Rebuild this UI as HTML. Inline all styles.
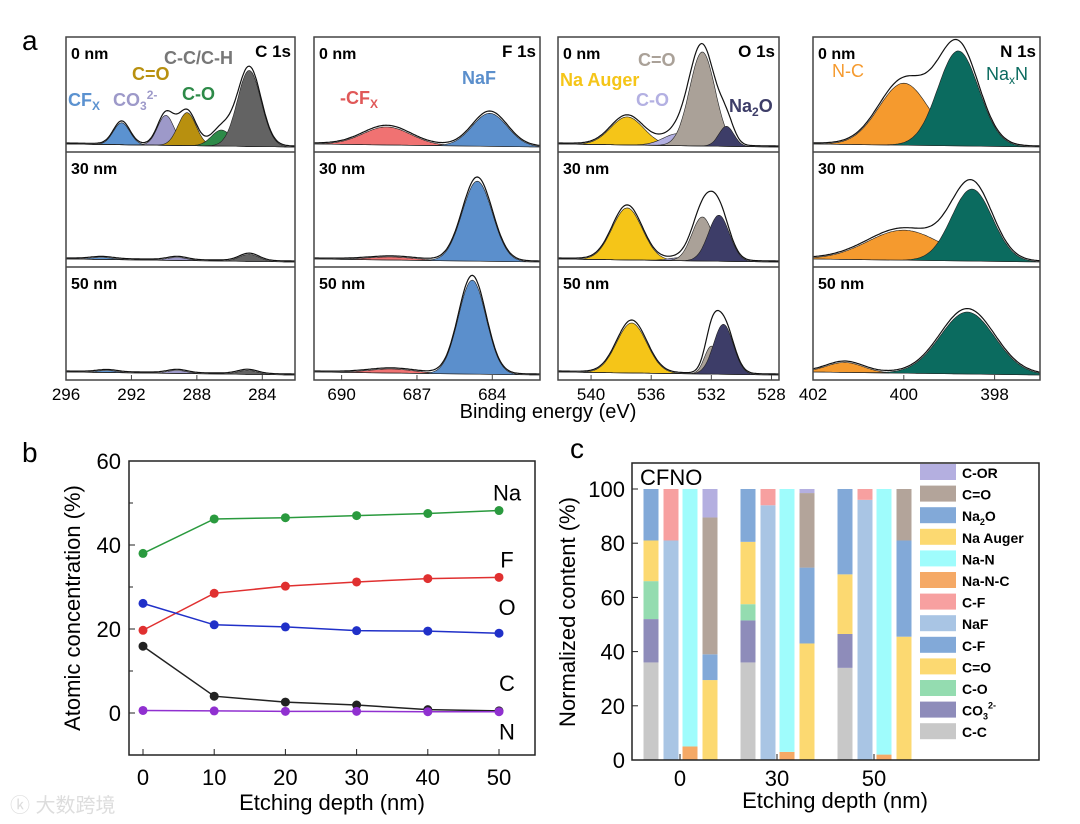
<!DOCTYPE html>
<html><head><meta charset="utf-8">
<style>
body{margin:0;background:#fff;}
svg{display:block;font-family:"Liberation Sans","Noto Sans CJK SC",sans-serif;}
.b{font-weight:bold}
</style></head>
<body>
<svg id="fig" width="1080" height="824" viewBox="0 0 1080 824">
<text x="22" y="50" font-size="28">a</text>
<text x="22" y="462" font-size="28">b</text>
<text x="570" y="458" font-size="28">c</text>
<g id="pa"></g><g id="pb"></g><g id="pc"></g>
<text x="548" y="418" font-size="20" text-anchor="middle">Binding energy (eV)</text>
<text x="10" y="812" font-size="20" fill="#ddd">ⓚ 大数跨境</text>
</svg>
<script>
const NS="http://www.w3.org/2000/svg";
function mk(p,t,a,txt){const e=document.createElementNS(NS,t);for(const k in a)e.setAttribute(k,a[k]);if(txt!==undefined)e.textContent=txt;p.appendChild(e);return e;}
// rich text: parts = [[text, mode]] mode: "" normal, "sub", "sup"
function rich(p,attrs,parts,fs){
 const t=mk(p,"text",attrs);
 let cur=0;
 parts.forEach(pt=>{
  const target=pt[1]==="sub"?4:pt[1]==="sup"?-7:0;
  const a={dy:(target-cur)};
  if(pt[1])a["font-size"]=Math.round(fs*0.65);
  mk(t,"tspan",a,pt[0]);cur=target;
 });
 return t;
}

// ---------- Panel a data ----------
const aPanels=["C 1s","F 1s","O 1s","N 1s"];
const aRanges=[[296,282],[691.1,682.1],[542.2,527.5],[402,397]];
const aTicks=[[296,292,288,284],[690,687,684],[540,536,532,528],[402,400,398]];
const aRows=["0 nm","30 nm","50 nm"];
// peaks: [center, amplitude(px), sigma, color]
const cPeaks=[
 [[292.6,22,0.5,"#5b92d0"],[289.9,30,0.5,"#9d99c9"],[288.6,33,0.55,"#b8900f"],[286.5,16,0.6,"#2d8a48"],[284.8,76,0.72,"#636363"]],
 [[293.8,2,0.7,"#5b92d0"],[289.2,3,0.6,"#9d99c9"],[284.8,7,0.6,"#636363"]],
 [[293.5,2,0.6,"#5b92d0"],[289.2,3,0.6,"#9d99c9"],[284.9,4,0.6,"#636363"]]];
const fPeaks=[
 [[688.2,18,0.95,"#f07272"],[684.1,33,0.7,"#5b8fcc"]],
 [[688.0,3,0.9,"#f07272"],[684.6,80,0.6,"#5b8fcc"]],
 [[688.0,4,0.9,"#f07272"],[684.8,94,0.55,"#5b8fcc"]]];
const oPeaks=[
 [[537.6,28,1.1,"#f5c518"],[534.2,12,1.0,"#b3b0e2"],[532.6,94,0.85,"#aaa198"],[531.0,20,0.5,"#3d3d68"]],
 [[537.6,52,1.0,"#f5c518"],[534.0,3,0.8,"#b3b0e2"],[532.6,44,0.7,"#aaa198"],[531.5,46,0.7,"#3d3d68"]],
 [[537.3,50,1.0,"#f5c518"],[532.0,28,0.45,"#aaa198"],[531.2,50,0.65,"#3d3d68"]]];
const nPeaks=[
 [[400.0,62,0.55,"#f59a2e"],[398.8,95,0.45,"#0b6b5f"]],
 [[400.0,30,0.8,"#f59a2e"],[398.5,72,0.45,"#0b6b5f"]],
 [[401.3,10,0.4,"#f59a2e"],[398.6,62,0.6,"#0b6b5f"]]];
const aAll=[cPeaks,fPeaks,oPeaks,nPeaks];
const aBoxX=[[66,295],[314,540],[558,779],[813,1040]];
const aRowY=[37,152,267,380];

const pa=document.getElementById("pa");
aAll.forEach((peaks,pi)=>{
 const [x0,x1]=aBoxX[pi],[e0,e1]=aRanges[pi];
 const X=e=>x0+(e-e0)/(e1-e0)*(x1-x0);
 const g=mk(pa,"g",{});
 
 
 peaks.forEach((row,ri)=>{
  const base=aRowY[ri+1]-5;
  const bl=e=>base-3*(e-e1)/(e0-e1);
  const N=160,pts=[];for(let i=0;i<=N;i++)pts.push(e0+(e1-e0)*i/N);
  row.forEach(p=>{
   let d="M"+X(pts[0])+","+bl(pts[0]);
   pts.forEach(e=>{d+="L"+X(e).toFixed(1)+","+(bl(e)-p[1]*Math.exp(-((e-p[0])**2)/(2*p[2]*p[2]))).toFixed(1);});
   d+="L"+X(pts[N])+","+bl(pts[N])+"Z";
   const pe=mk(g,"path",{d:d,fill:p[3],stroke:"#222","stroke-width":"0.6"});
   
   
  });
  let d="";
  pts.forEach((e,i)=>{let s=0;row.forEach(p=>{s+=p[1]*Math.exp(-((e-p[0])**2)/(2*p[2]*p[2]));});d+=(i?"L":"M")+X(e).toFixed(1)+","+(bl(e)-s*1.04-1).toFixed(1);});
  const env=mk(g,"path",{d:d,fill:"none",stroke:"#111","stroke-width":"1.2"});
  
  
  const rl=mk(g,"text",{x:x0+5,y:aRowY[ri]+22,"font-size":"16","class":"b"},aRows[ri]);
  
  
  if(ri>0)mk(g,"line",{x1:x0,x2:x1,y1:aRowY[ri],y2:aRowY[ri],stroke:"#444","stroke-width":"1.5"});
 });
 mk(g,"rect",{x:x0,y:aRowY[0],width:x1-x0,height:aRowY[3]-aRowY[0],fill:"none",stroke:"#444","stroke-width":"1.5"});
 const tl=mk(g,"text",{x:x1-4,y:aRowY[0]+20,"font-size":"17","class":"b","text-anchor":"end"},aPanels[pi]);
 
 
 aTicks[pi].forEach(t=>{
  mk(g,"line",{x1:X(t),x2:X(t),y1:380,y2:375,stroke:"#444"});
  const tt=mk(g,"text",{x:X(t),y:400,"font-size":"17","text-anchor":"middle"},t);
  
  
 });
});
// panel a annotations
const ann=[[[["CF",""],["X","sub"]],68,106,"#5b92d0",""],[[["CO",""],["3","sub"],["2-","sup"]],113,106,"#9d99c9",""],[[["C=O",""]],132,80,"#b8900f",""],[[["C-O",""]],182,100,"#2d8a48",""],[[["C-C/C-H",""]],164,64,"#777",""],
[[["-CF",""],["X","sub"]],340,104,"#e05858",""],[[["NaF",""]],462,84,"#5b8fcc",""],[[["Na Auger",""]],560,86,"#f5c518",""],[[["C=O",""]],638,66,"#aaa198",""],[[["C-O",""]],636,106,"#b3b0e2",""],[[["Na",""],["2","sub"],["O",""]],729,112,"#3d3d68",""],
[[["N-C",""]],832,77,"#f59a2e","normal"],[[["Na",""],["x","sub"],["N",""]],986,80,"#0b6b5f","normal"]];
ann.forEach(a=>{
 const attrs={x:a[1],y:a[2],"font-size":"18",fill:a[3]};
 if(!a[4])attrs["class"]="b";
 const t=rich(pa,attrs,a[0],18);
 
 
});

// ---------- Panel b ----------
const bDepth=[0,10,20,30,40,50];
const bNa=[38,46.2,46.5,47,47.5,48.2];
const bF=[19.7,28.5,30.2,31.2,32,32.3];
const bO=[26.1,21,20.5,19.6,19.5,19];
const bC=[15.9,4,2.6,1.9,0.8,0.5];
const bN=[0.6,0.5,0.4,0.4,0.3,0.3];
const bYTicks=[0,20,40,60];
const pb=document.getElementById("pb");
const bx=v=>143+v*(499-143)/50, by=v=>713-v*4.2;
mk(pb,"rect",{x:129,y:461,width:406,height:294,fill:"none",stroke:"#222","stroke-width":"1.5"});
bYTicks.forEach(t=>{mk(pb,"line",{x1:129,x2:135,y1:by(t),y2:by(t),stroke:"#222"});
 const e=mk(pb,"text",{x:121,y:by(t)+8,"font-size":"22","text-anchor":"end"},t);
 
 });
[10,30,50].forEach(t=>mk(pb,"line",{x1:129,x2:133,y1:by(t),y2:by(t),stroke:"#222"}));
bDepth.forEach(t=>{mk(pb,"line",{x1:bx(t),x2:bx(t),y1:755,y2:749,stroke:"#222"});
 const e=mk(pb,"text",{x:bx(t),y:785,"font-size":"22","text-anchor":"middle"},t);
 
 });
[[bNa,"#2a9a3e","Na",-10],[bF,"#e03030","F",-10],[bO,"#2030c8","O",-18],[bC,"#222","C",-20],[bN,"#9030d0","N",28]].forEach(s=>{
 const g=mk(pb,"g",{});
 
 
 mk(g,"polyline",{points:bDepth.map((d,i)=>bx(d)+","+by(s[0][i])).join(" "),fill:"none",stroke:s[1],"stroke-width":"1.5"});
 bDepth.forEach((d,i)=>{const c=mk(g,"circle",{cx:bx(d),cy:by(s[0][i]),r:4.5,fill:s[1]});
  
  });
 const l=mk(g,"text",{x:507,y:by(s[0][5])+s[3],"font-size":"22","text-anchor":"middle"},s[2]);
 
 
});
mk(pb,"text",{x:0,y:0,"font-size":"22","text-anchor":"middle",transform:"translate(80,608) rotate(-90)"},"Atomic concentration (%)");
mk(pb,"text",{x:332,y:810,"font-size":"22","text-anchor":"middle"},"Etching depth (nm)");

// ---------- Panel c ----------
const cGroups=["0","30","50"];
const cElements=["C","F","N","O"];
const cLegend=["C-OR","C=O","Na2O","Na Auger","Na-N","Na-N-C","C-F","NaF","C-F","C=O","C-O","CO3","C-C"];
const cColors=["#b4afe0","#b3a49a","#82a9d8","#fcd971","#9ffcfc","#f5a966","#f7a0a0","#a9c5e4","#82a9d8","#fcd971","#94dcb0","#8e8cba","#c8c8c8"];
// stacks per group: arrays of [legendIndex, value]
const cStackC0=[[12,36],[11,16],[10,14],[9,15],[8,19]];
const cStackF0=[[7,81],[6,19]];
const cStackN0=[[5,5],[4,95]];
const cStackO0=[[3,29.5],[2,9.5],[1,50.5],[0,10.5]];
const cStackC30=[[12,36],[11,15.5],[10,6],[9,23],[8,19.5]];
const cStackF30=[[7,94],[6,6]];
const cStackN30=[[5,3],[4,97]];
const cStackO30=[[3,43],[2,28],[1,27.5],[0,1.5]];
const cStackC50=[[12,34],[11,12.5],[9,22],[8,31.5]];
const cStackF50=[[7,96],[6,4]];
const cStackN50=[[5,2],[4,98]];
const cStackO50=[[3,45.5],[2,35.5],[1,19]];
const cStacks=[[cStackC0,cStackF0,cStackN0,cStackO0],[cStackC30,cStackF30,cStackN30,cStackO30],[cStackC50,cStackF50,cStackN50,cStackO50]];
const cYTicks=[0,20,40,60,80,100];
const pc=document.getElementById("pc");
const cy=v=>760-v*2.71;
const gx=[680,777,874], off=[-29,-9,10,30], bw=15;
cStacks.forEach((grp,gi)=>grp.forEach((st,bi)=>{
 let acc=0;
 st.forEach(s=>{const r=mk(pc,"rect",{x:gx[gi]+off[bi]-bw/2,y:cy(acc+s[1]),width:bw,height:s[1]*2.71,fill:cColors[s[0]]});
  
  
  acc+=s[1];});
}));
mk(pc,"rect",{x:632,y:463,width:407,height:297,fill:"none",stroke:"#222","stroke-width":"1.5"});
cYTicks.forEach(t=>{mk(pc,"line",{x1:632,x2:638,y1:cy(t),y2:cy(t),stroke:"#222"});
 const e=mk(pc,"text",{x:625,y:cy(t)+8,"font-size":"22","text-anchor":"end"},t);
 
 });
cGroups.forEach((g,i)=>{mk(pc,"line",{x1:gx[i],x2:gx[i],y1:760,y2:754,stroke:"#222"});
 const e=mk(pc,"text",{x:gx[i],y:786,"font-size":"22","text-anchor":"middle"},g);
 
 });
mk(pc,"text",{x:640,y:485,"font-size":"22"},cElements.join(""));
cLegend.forEach((l,i)=>{const y=472+i*21.6;
 const g=mk(pc,"g",{});
 
 
 mk(g,"rect",{x:920,y:y-8,width:36,height:16,fill:cColors[i]});
 const attrs={x:962,y:y+6,"font-size":"14","class":"b"};
 if(l==="Na2O")rich(g,attrs,[["Na",""],["2","sub"],["O",""]],14);
 else if(l==="CO3")rich(g,attrs,[["CO",""],["3","sub"],["2-","sup"]],14);
 else mk(g,"text",attrs,l);
});
mk(pc,"text",{x:0,y:0,"font-size":"22","text-anchor":"middle",transform:"translate(575,612) rotate(-90)"},"Normalized content (%)");
mk(pc,"text",{x:835,y:808,"font-size":"22","text-anchor":"middle"},"Etching depth (nm)");
</script>
</body></html>
